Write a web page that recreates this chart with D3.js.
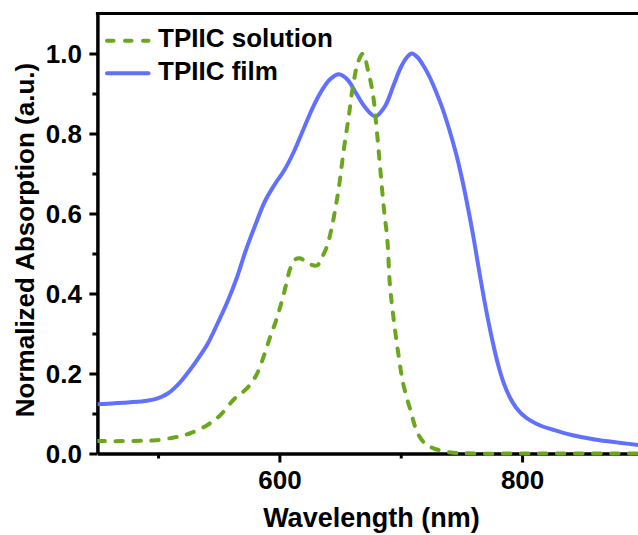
<!DOCTYPE html>
<html>
<head>
<meta charset="utf-8">
<script src="https://cdn.jsdelivr.net/npm/d3@7"></script>
<style>
  html, body { margin: 0; padding: 0; background: #fff; }
  svg { display: block; }
  text { font-family: "Liberation Sans", Arial, sans-serif; font-weight: bold; fill: #000; }
</style>
</head>
<body>
<svg id="chart" width="638" height="535"></svg>
<script>
// ---- data ----
const filmWavelength = [450,477,491,499,508,516,524,532,541,549,557,565,572,580,588,596,604,612,620,628,635,642,649,656,663,670,679,687,694,700,705,709,714,719,724,729,734,740,746,751,756,760,765,770,775,780,785,790,795,800,806,815,825,840,860,880,900];
const filmAbsorption = [0.123,0.128,0.132,0.137,0.150,0.171,0.200,0.233,0.275,0.325,0.378,0.440,0.505,0.570,0.630,0.672,0.708,0.755,0.812,0.868,0.908,0.936,0.948,0.935,0.902,0.868,0.843,0.868,0.920,0.965,0.990,1.000,0.990,0.968,0.940,0.905,0.866,0.810,0.745,0.680,0.605,0.540,0.450,0.365,0.290,0.225,0.175,0.140,0.115,0.098,0.084,0.070,0.060,0.047,0.035,0.027,0.020];

const solWavelength = [450,470,490,498,513,526,540,551,563,573,581,587,592,597,601,605,609,613,617,624,631,635,639,643,646,649,653,657,661,665,669,673,677,680,683,686,689,691,694,698,702,708,714,720,727,740,760,800,900];
const solAbsorption = [0.031,0.031,0.032,0.033,0.040,0.050,0.070,0.095,0.137,0.162,0.196,0.242,0.288,0.330,0.370,0.416,0.463,0.485,0.488,0.475,0.470,0.490,0.516,0.563,0.610,0.665,0.758,0.840,0.925,0.980,1.000,0.958,0.900,0.816,0.716,0.616,0.533,0.425,0.340,0.250,0.175,0.108,0.050,0.025,0.013,0.003,0.000,0.000,0.000];

const seriesNames = ["TPIIC solution", "TPIIC film"];
const xMajorTicks = [600, 800];
const xMinorTicks = [500, 700, 900];
const yMajorTicks = [0.0, 0.2, 0.4, 0.6, 0.8, 1.0];
const yMinorTicks = [0.1, 0.3, 0.5, 0.7, 0.9];
const xTitle = "Wavelength (nm)";
const yTitle = "Normalized Absorption (a.u.)";

// ---- layout ----
const svg = d3.select("#chart");
const pL = 97.4, pR = 643.4, pT = 13.5, pB = 453.5;
const blue = "#6171fd", green = "#6ba71e";

const x = d3.scaleLinear().domain([450, 900]).range([pL, pR]);
const y = d3.scaleLinear().domain([0, 1.1]).range([pB, pT]);

svg.append("defs").append("clipPath").attr("id", "plotclip")
  .append("rect").attr("x", pL).attr("y", pT - 3).attr("width", pR - pL).attr("height", pB - pT + 6);

// axes
const fmt = d3.format(".1f");
const xAxis = svg.append("g").attr("transform", `translate(0,${pB})`)
  .call(d3.axisBottom(x).tickValues(xMajorTicks).tickSize(9).tickPadding(8.5).tickSizeOuter(0));
const xMinor = svg.append("g").attr("transform", `translate(0,${pB})`)
  .call(d3.axisBottom(x).tickValues(xMinorTicks).tickSize(5).tickFormat("").tickSizeOuter(0));
const yAxis = svg.append("g").attr("transform", `translate(${pL},0)`)
  .call(d3.axisLeft(y).tickValues(yMajorTicks).tickFormat(fmt).tickSize(8).tickPadding(7.5).tickSizeOuter(0));
const yMinor = svg.append("g").attr("transform", `translate(${pL},0)`)
  .call(d3.axisLeft(y).tickValues(yMinorTicks).tickSize(5).tickFormat("").tickSizeOuter(0));

[xAxis, xMinor, yAxis, yMinor].forEach(g => {
  g.selectAll(".domain").attr("stroke", "#000").attr("stroke-width", 3);
  g.selectAll(".tick line").attr("stroke", "#000").attr("stroke-width", 3);
  g.selectAll(".tick text").style("font-size", "26px").attr("fill", "#000")
    .style("font-family", '"Liberation Sans", Arial, sans-serif').style("font-weight", "bold");
});
yAxis.selectAll(".tick text").attr("dy", "0.35em");

// frame top / right lines
svg.append("line").attr("x1", pL - 1.5).attr("x2", pR + 2).attr("y1", pT).attr("y2", pT)
  .attr("stroke", "#000").attr("stroke-width", 3);
svg.append("line").attr("x1", pR).attr("x2", pR).attr("y1", pT).attr("y2", pB)
  .attr("stroke", "#000").attr("stroke-width", 3);

// axis titles
svg.append("text").attr("x", (pL + pR) / 2 + 1).attr("y", 527)
  .attr("text-anchor", "middle").style("font-size", "27px").text(xTitle);
svg.append("text").attr("transform", `translate(34,240) rotate(-90)`)
  .attr("text-anchor", "middle").style("font-size", "26px").text(yTitle);

// curves
const line = d3.line().x(d => x(d[0])).y(d => y(d[1])).curve(d3.curveCatmullRom.alpha(0.5));
const filmData = filmWavelength.map((w, i) => [w, filmAbsorption[i]]);
const solData = solWavelength.map((w, i) => [w, solAbsorption[i]]);

const plot = svg.append("g").attr("clip-path", "url(#plotclip)");
plot.append("path").datum(filmData).attr("d", line)
  .attr("fill", "none").attr("stroke", blue).attr("stroke-width", 4);
plot.append("path").datum(solData).attr("d", line)
  .attr("fill", "none").attr("stroke", green).attr("stroke-width", 4)
  .attr("stroke-linecap", "round").attr("stroke-dasharray", "7.5,10.5");

// legend
const legend = svg.append("g");
const legendItems = [
  {name: seriesNames[0], color: green, dash: "6.5,11.5", y: 40.7},
  {name: seriesNames[1], color: blue, dash: null, y: 73.3}
];
legendItems.forEach(it => {
  const l = legend.append("line").attr("x1", 107).attr("x2", 148.5).attr("y1", it.y).attr("y2", it.y)
    .attr("stroke", it.color).attr("stroke-width", 4).attr("stroke-linecap", "round");
  if (it.dash) l.attr("stroke-dasharray", it.dash);
  legend.append("text").attr("x", 158).attr("y", it.y + 6.5).style("font-size", "26px").text(it.name);
});
</script>
</body>
</html>
